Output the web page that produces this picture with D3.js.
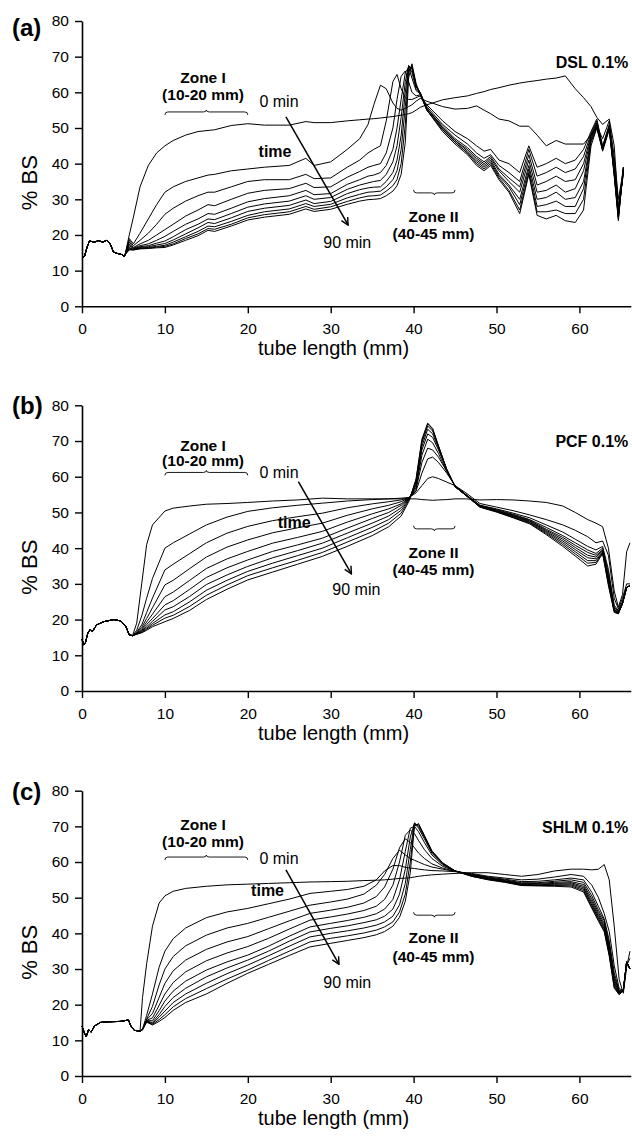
<!DOCTYPE html>
<html>
<head>
<meta charset="utf-8">
<script src="https://cdn.jsdelivr.net/npm/d3@7"></script>
<style>
  body { margin: 0; background: #fff; }
  svg { display: block; }
  text { font-family: "Liberation Sans", Arial, sans-serif; fill: #000; }
</style>
</head>
<body>
<div id="chart"></div>
<script>
// Backscattering profiles, one curve every 10 min (0 .. 90 min)
const minutes = [0, 10, 20, 30, 40, 50, 60, 70, 80, 90];
const xTicks = [0, 10, 20, 30, 40, 50, 60];
const yTicks = [0, 10, 20, 30, 40, 50, 60, 70, 80];

// (a) DSL 0.1% -- common start of the tube, then one row per time
const dslStartX = [0, 0.3, 0.6, 0.9, 1.5, 2, 2.5, 3, 3.4, 3.8, 4.3, 4.8, 5.1];
const dslStartY = [13.5, 14, 16.5, 18.3, 18, 18.4, 18, 18.5, 17.5, 15.2, 14.8, 14.5, 14];
const dslX = [5.2, 5.7, 6.2, 7, 8, 9, 10, 11, 12.5, 14, 15.2, 16, 18, 20, 22, 25, 27, 28, 30, 32,
  33.5, 34.5, 35.2, 36, 36.7, 37.5, 38, 38.5, 39, 39.4, 39.8, 40.3, 40.8, 41.6, 43.5, 45, 46.5, 47.6, 48.5, 49.3,
  50.3, 51.5, 52.8, 53.9, 54.9, 56, 57.2, 58.3, 59.5, 60.5, 61.4, 62.1, 62.8, 63.6, 64.2, 64.7, 65.3];
const dslBS = [
  [14.5, 20, 25, 33.5, 39.5, 43, 45, 46.5, 48, 49, 49.3, 49.5, 50.7, 51.2, 50.8, 50.8, 51.8, 51.5, 51.5, 52,
   52.3, 52.5, 52.6, 52.8, 53, 53.2, 53.4, 53.6, 53.8, 54, 54.3, 55, 55.8,
   56.5, 57.9, 58.5, 59, 59.7, 60.2, 60.8, 61.3, 62, 62.6, 63, 63.3, 63.7, 64, 64.6, 61, 58.5, 56, 53, 51, 52.5, 45, 28, 39],
  [14.5, 19, 17.5, 20.5, 24.5, 28.5, 32, 33.5, 35, 36, 36.8, 37, 38, 38.5, 39, 39.5, 41.5, 39.5, 40.5, 44,
   47, 51, 56.5, 62, 61, 57, 55.5, 55, 55.5, 56, 56.5, 57.5, 58.3,
   57.5, 56, 55.3, 55.5, 56.2, 55, 54, 52.5, 52, 50.5, 50.5, 48, 45, 46.5, 45.5, 45.5, 45.5, 48, 50.5, 47, 52, 42, 30, 38],
  [14.5, 18.5, 17, 18.5, 20.5, 23, 25.8, 27.5, 29.5, 31, 32, 32, 33.5, 35, 35.5, 35.5, 37, 35.8, 36, 39,
   41, 43, 44, 45, 52, 63, 65, 61, 58.5, 58, 58, 58.5, 59,
   56.5, 52, 49, 47, 45, 43.5, 44, 41, 40, 37.5, 45, 39, 40, 41.5, 40, 41, 44, 49, 52.5, 45, 51, 40, 27, 37],
  [14.5, 18, 16.5, 17.5, 18.5, 20, 21.5, 23, 25.3, 27, 28.5, 28.2, 30, 31.7, 32.5, 33, 34.5, 33.3, 33.5, 36.2,
   37.8, 39, 39.5, 40, 43, 50, 58, 64.5, 66, 63, 60, 59, 59.3,
   56, 51, 48, 45.5, 43, 41.5, 42.5, 39.5, 37.5, 35, 44, 36.5, 37.5, 39, 37.5, 38.5, 42, 48.5, 52, 44.5, 50.5, 39, 26.5, 37.5],
  [14.5, 17.5, 16.3, 17, 17.5, 18.5, 19.6, 21, 23, 24.5, 26, 25.8, 27.5, 29.3, 30.2, 31, 32.5, 31.3, 31.6, 34.2,
   35.5, 36.5, 36.8, 37.5, 39.5, 44, 50, 58, 65.5, 67, 64, 60.5, 59.5,
   55.5, 50.5, 47, 44.5, 42, 40.5, 42, 38.5, 36, 33.5, 42.5, 34, 35, 36.5, 35, 35.5, 40, 48, 51.5, 44.5, 50.5, 38.5, 26, 38],
  [14.5, 17, 16.2, 16.7, 17, 17.7, 18.3, 19.5, 21.5, 23, 24.5, 24.3, 26, 27.8, 28.7, 29.5, 31, 30, 30.5, 32.8,
   34, 34.6, 35, 35.3, 37, 40.5, 45, 53, 63, 67.5, 65.5, 61, 59.8,
   55.5, 50, 46.5, 44, 41.5, 40, 41.5, 38, 35, 32, 41, 32, 32.5, 34, 32, 33, 38, 47.5, 51, 44, 50, 38, 25.5, 38],
  [14.5, 16.5, 16, 16.5, 16.7, 17.2, 17.6, 18.6, 20.3, 22, 23.5, 23.2, 24.8, 26.6, 27.5, 28.3, 29.8, 28.8, 29.4, 31.6,
   32.7, 33.2, 33.4, 33.5, 35, 37.5, 41, 48, 60, 67.5, 66.5, 61.5, 60,
   55.5, 50, 46.5, 43.5, 41, 39.5, 41, 37, 34, 30, 39.5, 30, 30.5, 32, 30, 30.5, 35, 47, 51, 44, 50, 37.5, 25, 38.5],
  [14.5, 16.2, 16, 16.3, 16.5, 16.8, 17.1, 18, 19.5, 21, 22.5, 22.3, 23.8, 25.5, 26.5, 27.3, 28.8, 28, 28.6, 30.4,
   31.4, 32, 32.1, 32.3, 33.5, 35.5, 38, 44, 56, 67, 67, 62, 59.8,
   55, 49.5, 46, 43, 40.5, 39, 40.5, 36.5, 33.5, 28.5, 38.5, 28, 28.5, 29.5, 28, 28, 33, 46.5, 50.5, 44, 50, 37, 25, 38.5],
  [14.5, 16, 15.8, 16.2, 16.3, 16.6, 16.8, 17.5, 19, 20.3, 21.8, 21.6, 23, 24.8, 25.7, 26.5, 28, 27.2, 27.9, 29.4,
   30.4, 30.9, 31, 31.2, 32.3, 33.8, 35.5, 40, 51, 66, 67.5, 62, 59.5,
   55, 49.5, 46, 43, 40, 38.5, 40, 36, 32.5, 27, 37.5, 26.5, 26.5, 27, 26, 26, 30, 46, 50, 44, 50, 37, 24.5, 39],
  [14.5, 15.8, 15.8, 16.1, 16.2, 16.4, 16.5, 17.2, 18.5, 19.8, 21.3, 21, 22.5, 24.2, 25, 25.8, 27.3, 26.6, 27.2, 28.6,
   29.5, 29.9, 30, 30.2, 31, 32.3, 33.8, 37, 46, 64, 68, 62.5, 59.3,
   55, 49, 45.5, 42.5, 39.5, 38, 39.5, 35.5, 32, 26, 37, 25.5, 24.5, 25.5, 24, 23.5, 27, 45, 50, 43.5, 49.5, 36.5, 24, 39]
];

// (b) PCF 0.1%
const pcfStartX = [0, 0.2, 0.4, 0.7, 1, 1.25, 1.75, 2.6, 3.85, 4.7, 5.3, 5.7];
const pcfStartY = [14.5, 13, 13.4, 16.2, 17.3, 16.6, 18.5, 19.4, 20, 19.6, 18, 15.7];
const pcfX = [6.1, 6.6, 7.2, 7.8, 8.5, 10, 11, 13, 15, 17.5, 20, 23, 26, 29, 32, 35, 37, 38.5, 39.5,
  40.3, 41, 41.7, 42.3, 43, 44, 45,
  46.3, 48, 50, 52, 54, 56, 58, 59.5, 61, 62, 62.8, 63.5, 64.2, 64.7, 65.2, 65.7, 66.1];
const pcfBS = [
  [15.5, 19, 30, 41, 46.5, 50.4, 51.2, 51.8, 52.3, 52.5, 52.8, 53.2, 53.5, 54, 53.8, 53.8, 53.8, 53.8, 53.8,
   53.8, 53.6, 53.5, 53.4, 53.5, 53.6, 53.8,
   53.8, 53.5, 53.6, 53.5, 53.2, 52.8, 51.8, 50, 48, 47, 46, 40, 28, 23.5, 27, 39, 41.5],
  [15.5, 17, 21, 26, 31.5, 40, 41.5, 44, 46.5, 48.7, 50.3, 51.3, 52, 52.6, 53.2, 53.6, 53.8, 54, 54.2,
   55.5, 57.5, 59.5, 60, 59.5, 58.5, 57.5,
   55.5, 52.5, 51.5, 50.5, 49.3, 48, 46.5, 45, 43.2, 41.5, 42, 38, 26, 23, 26, 30, 30],
  [15.5, 16.5, 18.5, 22, 26, 33.9, 35.5, 38.5, 41.5, 44.2, 46.1, 47.7, 48.8, 49.8, 51.3, 52.4, 53, 53.5, 54.2,
   56, 61, 65, 65.5, 64, 61, 57.5,
   55, 52, 51, 49.8, 48.5, 46.5, 44.5, 42.5, 40.5, 39.5, 40.5, 34, 24, 22.5, 25, 29, 29.5],
  [15.5, 16.3, 17.8, 20.3, 23.3, 29.7, 31, 34.3, 37.5, 40.3, 42.3, 44.3, 45.7, 47, 49.2, 51, 52, 53, 54.2,
   56.5, 64, 68, 67.5, 65.5, 61.5, 57.5,
   55, 52, 50.8, 49.5, 48, 45.8, 43.5, 41.5, 39.5, 38.5, 40, 33, 23.5, 22.3, 25, 29, 29.5],
  [15.5, 16.2, 17.3, 19.3, 21.5, 26.4, 27.7, 31, 34.3, 37, 39.1, 41.4, 43, 44.7, 47.3, 49.6, 51, 52.4, 54.2,
   57, 66, 70.5, 69.5, 66.5, 61.5, 57.3,
   55, 51.8, 50.6, 49.3, 47.8, 45.3, 43, 40.8, 38.8, 38, 39.5, 32, 23, 22, 24.5, 29, 29.5],
  [15.5, 16.1, 17, 18.6, 20.3, 24.1, 25.3, 28.5, 31.8, 34.5, 36.7, 39.1, 40.9, 42.8, 45.6, 48.3, 50, 52, 54.1,
   57.5, 67.5, 72, 71, 67.5, 62, 57.3,
   54.8, 51.8, 50.5, 49.1, 47.6, 45, 42.5, 40.2, 38, 37.5, 39.3, 31.5, 22.8, 22, 24.5, 29, 29.5],
  [15.5, 16, 16.8, 18, 19.5, 22.7, 23.6, 26.5, 29.8, 32.5, 34.9, 37.3, 39.3, 41.4, 44.2, 47, 49, 51.3, 54,
   58, 68.5, 73.3, 72, 68, 62, 57.2,
   54.8, 51.7, 50.4, 49, 47.4, 44.7, 42, 39.6, 37.3, 37, 39, 31, 22.6, 21.8, 24.5, 29, 29.5],
  [15.5, 16, 16.6, 17.6, 18.9, 21.3, 22.2, 25, 28.2, 31, 33.5, 35.8, 37.9, 40, 42.9, 45.8, 48, 50.6, 53.9,
   58.5, 69.5, 74.2, 72.8, 68.5, 62, 57.2,
   54.8, 51.6, 50.3, 48.8, 47.2, 44.4, 41.5, 39, 36.5, 36.5, 38.8, 30.5, 22.4, 21.8, 24.5, 29, 29.5],
  [15.5, 15.9, 16.4, 17.3, 18.4, 20.4, 21.2, 23.7, 26.8, 29.7, 32.3, 34.5, 36.6, 38.8, 41.7, 44.6, 47, 49.8, 53.7,
   59, 70, 74.8, 73.3, 68.5, 62, 57.2,
   54.8, 51.5, 50.2, 48.6, 47, 44.1, 41, 38.4, 35.8, 36, 38.6, 30, 22.2, 21.7, 24.5, 29, 29.5],
  [15.5, 15.9, 16.3, 17, 18, 19.4, 20.3, 22.6, 25.6, 28.5, 31.1, 33.3, 35.5, 37.7, 40.5, 43.5, 46, 49, 53.4,
   59.5, 70.5, 75, 73.5, 68.7, 62, 57.2,
   54.8, 51.5, 50.1, 48.5, 46.8, 43.8, 40.5, 37.8, 35, 35.5, 38.5, 29.5, 22, 21.6, 24.5, 29, 29.5]
];

// (c) SHLM 0.1%
const shlmStartX = [0, 0.3, 0.5, 0.8, 1.1, 1.5, 2.2, 3, 4.6, 5.6, 5.9, 6.3, 7];
const shlmStartY = [14, 12, 11, 13, 12.3, 14, 15, 15.2, 15.3, 15.7, 14, 12.8, 12.6];
const shlmX = [7.3, 7.8, 8.5, 9.3, 10, 11, 12.5, 15, 17.5, 20, 22.5, 25, 27.5, 30, 32, 34, 35.5, 36.5, 37.5, 38.3,
  39, 39.6, 40.1, 40.6, 41.3, 42.2, 43.5, 45, 47, 49, 51, 53, 55, 57, 59, 60.5, 61.5, 62.3, 63, 63.6,
  64.2, 64.8, 65.3, 65.7, 66.1];
const shlmBS = [
  [22, 31.5, 42, 48.5, 50.5, 51.8, 52.6, 53.2, 53.6, 53.8, 54, 54.2, 54.4, 54.5, 54.6, 54.8, 54.9, 55, 55.2, 55.4,
   55.5, 55.6, 55.8, 56, 56.2, 56.4, 56.6, 56.8, 57, 57, 56.5, 56, 56.5, 57.5, 58, 58, 57.8, 58, 59.3, 55,
   42, 27, 23.2, 30.6, 35],
  [13.2, 17, 23, 30.5, 35, 38.5, 41.5, 44.4, 46, 47, 48.3, 49.6, 51.2, 51.8, 52.3, 53.2, 55, 57.5, 59, 59,
   58.5, 58.3, 58.2, 58, 57.8, 57.6, 57.5, 57.3, 56.8, 56, 55.5, 55, 55.2, 55.8, 56.5, 56, 53.5, 50, 45.5, 40.5,
   31, 24.5, 24, 31, 33],
  [13, 16, 19.5, 25.5, 30, 33.5, 36.5, 39.5, 41.5, 42.8, 44.5, 46.2, 47.9, 48.8, 49.6, 51, 53.5, 56.5, 61, 63.3,
   62, 61, 60.5, 60, 59.3, 58.6, 58, 57.4, 56.6, 55.8, 55.2, 54.5, 54.6, 55, 55.5, 55, 51.5, 47.5, 44, 38,
   29, 24, 24, 32, 30],
  [13, 15.8, 17.5, 22, 26, 29.5, 32.5, 35.5, 37.6, 39.1, 41.3, 43.5, 45.6, 46.5, 47.3, 48.5, 50.3, 53, 58, 64,
   66.5, 65.5, 64, 62.5, 61, 59.5, 58.3, 57.4, 56.5, 55.6, 55, 54.2, 54.2, 54.6, 55, 54.3, 50.5, 46.5, 43.5, 37,
   28, 23.7, 24, 32, 30],
  [13, 15.6, 16.3, 19.8, 23, 26.2, 29.2, 32.3, 34.5, 36.3, 38.6, 41.2, 43.7, 44.6, 45.4, 46.4, 47.6, 49.5, 53.5, 60,
   67.5, 69, 68, 66, 63.5, 61, 58.8, 57.5, 56.4, 55.5, 54.8, 54, 54, 54.3, 54.5, 53.7, 49.7, 45.8, 42.8, 36.2,
   27.2, 23.5, 24, 32, 30],
  [13, 15.5, 15.5, 18.3, 21, 23.8, 26.6, 29.7, 32, 33.9, 36.4, 39.2, 41.8, 42.8, 43.6, 44.5, 45.5, 46.8, 49.5, 55,
   63, 69.5, 70, 68.5, 65.5, 62, 59.2, 57.5, 56.3, 55.4, 54.7, 53.8, 53.8, 54, 54.2, 53.2, 49, 45.2, 42.2, 35.6,
   26.6, 23.3, 24, 32, 30],
  [13, 15.4, 15, 17.2, 19.5, 22, 24.6, 27.8, 30.3, 32.5, 35, 37.8, 40.4, 41.4, 42.1, 43, 43.8, 44.8, 46.8, 51,
   58, 67, 70.8, 69.5, 66.5, 62.5, 59.4, 57.5, 56.2, 55.3, 54.6, 53.7, 53.6, 53.8, 53.9, 52.8, 48.4, 44.7, 41.7, 35,
   26, 23.1, 24, 32, 30],
  [13, 15.3, 14.7, 16.5, 18.2, 20.6, 23, 26, 28.7, 31.1, 33.7, 36.4, 39, 40, 40.7, 41.5, 42.3, 43.2, 44.8, 48,
   54, 63.5, 71, 70, 67, 62.8, 59.6, 57.5, 56.1, 55.2, 54.5, 53.6, 53.5, 53.6, 53.6, 52.4, 47.9, 44.2, 41.2, 34.5,
   25.5, 23, 24, 32, 30],
  [13, 15.2, 14.5, 15.8, 17.2, 19.4, 21.7, 24.5, 27.2, 29.7, 32.4, 35, 37.6, 38.6, 39.3, 40.1, 40.9, 41.8, 43.2, 46,
   51, 60, 70.5, 70.5, 67.3, 63, 59.7, 57.5, 56, 55.1, 54.4, 53.5, 53.4, 53.4, 53.3, 52, 47.4, 43.8, 40.8, 34,
   25, 22.9, 24, 32, 30],
  [13, 15.1, 14.3, 15.3, 16.4, 18.4, 20.6, 23, 26, 28.8, 31.3, 33.8, 36.2, 37.2, 38, 38.8, 39.6, 40.5, 42, 44.5,
   49, 57, 70, 70.8, 67.5, 63.2, 59.8, 57.5, 56, 55, 54.3, 53.4, 53.3, 53.2, 53, 51.6, 47, 43.4, 40.4, 33.6,
   24.6, 22.8, 24, 32, 30]
];

// annotation positions (data units) and panel layout
const panels = [
  { tag: "(a)", tagY: 36, top: 21, bottom: 306.3, name: "DSL 0.1%",
    startX: dslStartX, startY: dslStartY, xs: dslX, curves: dslBS,
    zoneI: [62.5, 57.8, 54.5], zero: [21.4, 55.9], arrow: [24.6, 53.1, 32.1, 22.8],
    time: [21.3, 41.9], ninety: [29.1, 16.3], zoneII: [23.6, 18.9, 31.8], nameY: 66.8 },
  { tag: "(b)", tagY: 414, top: 405.3, bottom: 691, name: "PCF 0.1%",
    startX: pcfStartX, startY: pcfStartY, xs: pcfX, curves: pcfBS,
    zoneI: [67.1, 62.9, 61.2], zero: [21.4, 59.6], arrow: [26.1, 58.6, 32.5, 32.8],
    time: [23.6, 45.6], ninety: [30.2, 26.9], zoneII: [37.2, 32.5, 45.4], nameY: 68.3 },
  { tag: "(c)", tagY: 800, top: 790.7, bottom: 1076, name: "SHLM 0.1%",
    startX: shlmStartX, startY: shlmStartY, xs: shlmX, curves: shlmBS,
    zoneI: [68.9, 64.2, 61.4], zero: [21.4, 59.4], arrow: [24.6, 57.8, 31, 31.3],
    time: [20.4, 50.4], ninety: [29.1, 24.7], zoneII: [37.3, 31.9, 45.1], nameY: 68.1 }
];

const W = 632, H = 1136;
const svg = d3.select("#chart").append("svg")
  .attr("width", W)
  .attr("height", H);

svg.append("defs").append("marker")
  .attr("id", "arrowhead")
  .attr("viewBox", "0 0 10 10")
  .attr("refX", 9).attr("refY", 5)
  .attr("markerWidth", 9).attr("markerHeight", 9)
  .attr("markerUnits", "userSpaceOnUse")
  .attr("orient", "auto")
  .append("path")
  .attr("d", "M1,1 L9,5 L1,9")
  .attr("fill", "none")
  .attr("stroke", "#000")
  .attr("stroke-width", 1.6);

const x = d3.scaleLinear().domain([0, 66.2]).range([82, 630.8]);

panels.forEach(p => {
  const y = d3.scaleLinear().domain([0, 80]).range([p.bottom, p.top]);
  const g = svg.append("g");

  // curves
  const line = d3.line().x(d => x(d[0])).y(d => y(d[1]));
  p.curves.forEach((vals, i) => {
    const pts = p.startX.map((v, j) => [v, p.startY[j]])
      .concat(p.xs.map((v, j) => [v, vals[j]]));
    g.append("path")
      .datum(pts)
      .attr("d", line)
      .attr("fill", "none")
      .attr("stroke", "#000")
      .attr("stroke-width", 1)
      .attr("stroke-linejoin", "round");
  });

  // axes
  const xAxis = g.append("g")
    .attr("transform", `translate(0,${p.bottom})`)
    .call(d3.axisBottom(x).tickValues(xTicks).tickSize(7).tickPadding(10).tickSizeOuter(0));
  const yAxis = g.append("g")
    .attr("transform", `translate(${x(0)},0)`)
    .call(d3.axisLeft(y).tickValues(yTicks).tickSize(7).tickPadding(6).tickSizeOuter(0));
  [xAxis, yAxis].forEach(a => {
    a.attr("font-family", null).attr("font-size", null);
    a.select(".domain").attr("stroke", "#000").attr("stroke-width", 1.6);
    a.selectAll(".tick line").attr("stroke", "#000").attr("stroke-width", 1.4);
    a.selectAll(".tick text").style("font-size", "15.5px").attr("fill", "#000");
  });

  // titles
  svg.append("text")
    .attr("x", 12).attr("y", p.tagY)
    .style("font-size", "24px").style("font-weight", "bold")
    .text(p.tag);
  svg.append("text")
    .attr("x", 258).attr("y", p.bottom + 49)
    .style("font-size", "20px")
    .text("tube length (mm)");
  svg.append("text")
    .attr("transform", `translate(37,${(p.top + p.bottom) / 2 + 19}) rotate(-90)`)
    .attr("text-anchor", "middle")
    .style("font-size", "22px")
    .text("% BS");

  // annotations
  const label = (tx, ty, txt, bold, anchor, size) => g.append("text")
    .attr("x", x(tx)).attr("y", y(ty))
    .attr("text-anchor", anchor || "start")
    .style("font-size", (size || 16) + "px")
    .style("font-weight", bold ? "bold" : "normal")
    .text(txt);

  label(14.6, p.zoneI[0], "Zone I", true, "middle", 15.5);
  label(14.6, p.zoneI[1], "(10-20 mm)", true, "middle", 15.5);
  label(p.zero[0], p.zero[1], "0 min", false);
  label(p.time[0], p.time[1], "time", true);
  label(p.ninety[0], p.ninety[1], "90 min", false);
  label(42.4, p.zoneII[0], "Zone II", true, "middle", 15.5);
  label(42.4, p.zoneII[1], "(40-45 mm)", true, "middle", 15.5);
  label(65.9, p.nameY, p.name, true, "end");

  // zone brackets
  const bracket = (x1, x2, yv, dir) => {
    const a = x(x1), b = x(x2), m = (a + b) / 2, yb = y(yv);
    const d = `M${a},${yb + 3 * dir} Q${a},${yb} ${a + 3},${yb} L${m - 3},${yb} ` +
      `Q${m},${yb} ${m},${yb - 2 * dir} Q${m},${yb} ${m + 3},${yb} L${b - 3},${yb} Q${b},${yb} ${b},${yb + 3 * dir}`;
    g.append("path").attr("d", d).attr("fill", "none").attr("stroke", "#000").attr("stroke-width", 0.9);
  };
  bracket(10, 20, p.zoneI[2], 1);
  bracket(40, 45, p.zoneII[2], -1);

  // time arrow
  g.append("line")
    .attr("x1", x(p.arrow[0])).attr("y1", y(p.arrow[1]))
    .attr("x2", x(p.arrow[2])).attr("y2", y(p.arrow[3]))
    .attr("stroke", "#000")
    .attr("stroke-width", 1.5)
    .attr("marker-end", "url(#arrowhead)");
});
</script>
</body>
</html>
